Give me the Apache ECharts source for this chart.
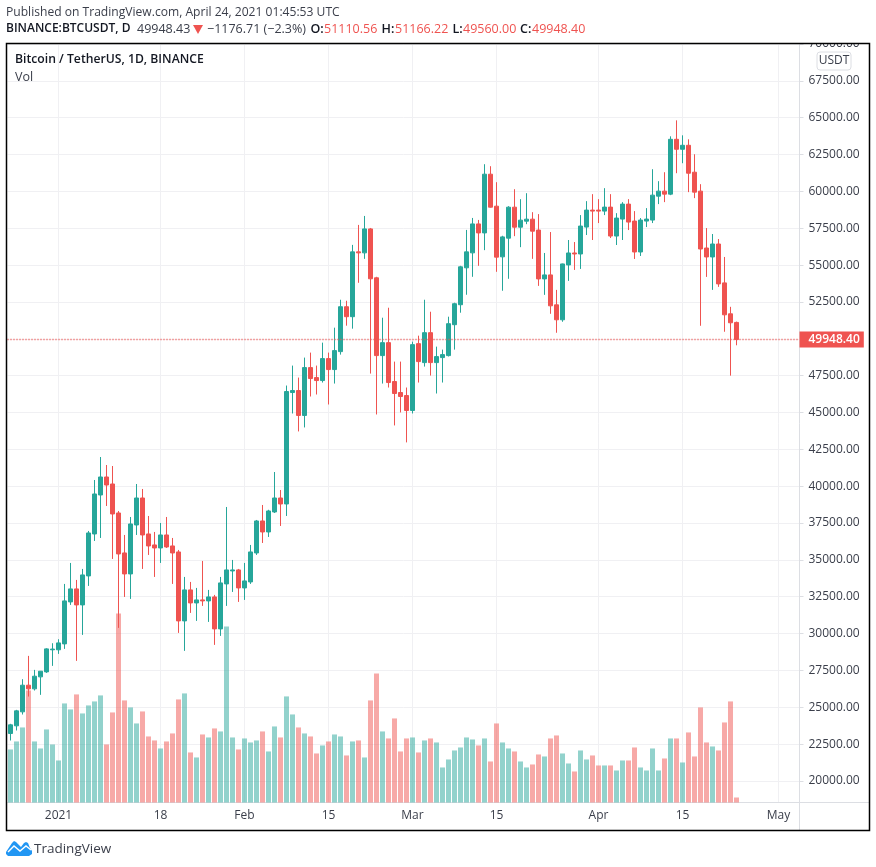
<!DOCTYPE html>
<html>
<head>
<meta charset="utf-8">
<title>BTCUSDT</title>
<script src="https://cdn.jsdelivr.net/npm/echarts@6/dist/echarts.min.js"></script>
<style>
    html, body { margin: 0; padding: 0; background: #fff; }
    #chart { width: 876px; height: 867px; }
</style>
</head>
<body>
<div id="chart"></div>
<script>
(function () {
    const UP = "#26a69a";
    const DOWN = "#ef5350";
    const FONT = '"Open Sans", "Noto Sans", sans-serif';

    // open, high, low, close, volume (thousands) -- daily from 2020-12-24
    const rows = [
        [23222, 23878, 22748, 23810, 53], [23742, 24827, 23426, 24759, 61], [24691, 26906, 24510, 26499, 75],
        [26499, 28488, 25731, 26250, 112], [26250, 27539, 26138, 27109, 61], [27064, 27450, 25844, 27448, 54],
        [27403, 29008, 27335, 28963, 73], [28900, 29347, 27810, 28950, 58], [28900, 29618, 28624, 29369, 42],
        [29302, 33370, 28963, 32217, 99], [32149, 34793, 31946, 33031, 93], [33031, 33641, 28149, 31946, 108],
        [31946, 34387, 29912, 33980, 89], [33912, 36963, 33234, 36827, 97], [36760, 40421, 36285, 39472, 101],
        [39404, 41980, 36488, 40624, 107], [40624, 41438, 38658, 40082, 58], [40150, 41370, 35065, 38116, 90],
        [38183, 38319, 30386, 35404, 189], [35472, 36692, 32488, 34048, 102], [34048, 37912, 32353, 37438, 95],
        [37370, 40150, 36692, 39200, 79], [39200, 39811, 34387, 36692, 91], [36760, 37980, 35336, 35946, 66],
        [36014, 36895, 33844, 35810, 62], [35810, 37505, 34793, 36692, 54], [36692, 37912, 35810, 35878, 61],
        [35946, 36488, 33370, 35471, 69], [35539, 35675, 30047, 30861, 103], [30861, 33844, 28827, 32963, 109],
        [32963, 33505, 31403, 32081, 50], [32081, 33098, 30861, 32285, 45], [32285, 34929, 31878, 32217, 68],
        [32217, 32963, 30793, 32488, 65], [32488, 32624, 29234, 30319, 74], [30319, 33844, 29844, 33437, 71],
        [33370, 38590, 31878, 34319, 176], [34250, 34997, 32827, 34319, 65], [34319, 34387, 32149, 33098, 53],
        [33098, 34793, 32285, 33573, 64], [33505, 36014, 33370, 35539, 60], [35471, 37709, 35336, 37641, 62],
        [37641, 38726, 36149, 36895, 71], [36895, 38400, 36556, 38319, 51], [38251, 40963, 38183, 39200, 76],
        [39200, 39743, 37302, 38794, 65], [38794, 46829, 37980, 46423, 106], [46355, 48183, 44934, 46491, 88],
        [46491, 47370, 43716, 44799, 75], [44799, 48724, 43986, 48047, 69], [48047, 49063, 46085, 47303, 66],
        [47370, 48183, 46220, 47167, 49], [47167, 49739, 47032, 48656, 57], [48656, 49063, 45543, 47912, 61],
        [47912, 50754, 46964, 49198, 68], [49130, 52650, 48927, 52176, 66], [52176, 52582, 50890, 51499, 47],
        [51499, 56372, 50687, 55898, 61], [55898, 57726, 53800, 55830, 62], [55830, 58335, 55424, 57455, 45],
        [57455, 57520, 47641, 54071, 102], [54138, 54206, 44866, 48860, 129], [48860, 51431, 46964, 49739, 71],
        [49739, 52108, 46694, 47032, 64], [47100, 48453, 44122, 46288, 84], [46356, 48453, 45002, 46085, 51],
        [46153, 46694, 42971, 45137, 64], [45137, 49807, 44934, 49604, 65], [49672, 50213, 47032, 48453, 50],
        [48385, 52650, 48115, 50416, 62], [50416, 51837, 47506, 48385, 64], [48385, 49468, 46288, 48792, 60],
        [48724, 49266, 47032, 48927, 35], [48860, 51499, 48800, 51025, 43], [50957, 52447, 49266, 52379, 52],
        [52311, 54951, 51770, 54883, 55], [54815, 57387, 52988, 55898, 65], [55830, 58199, 54206, 57793, 63],
        [57793, 58064, 54951, 57184, 57], [57184, 61845, 56014, 61167, 64], [61167, 61709, 58900, 58929, 41],
        [58997, 60624, 54545, 55539, 79], [55560, 56990, 53259, 56913, 60], [56827, 58997, 54071, 58929, 54],
        [58929, 60150, 56963, 57573, 51], [57573, 59472, 56217, 58050, 41], [57980, 59878, 57777, 58116, 35],
        [58116, 58590, 55424, 57302, 38], [57378, 58460, 53590, 54063, 48], [54063, 55822, 52981, 54334, 46],
        [54334, 57243, 51696, 52237, 64], [52304, 53319, 50410, 51290, 67], [51290, 55100, 51155, 55078, 49],
        [55011, 56702, 53928, 55822, 39], [55822, 56566, 54672, 55755, 31], [55755, 58393, 54740, 57649, 52],
        [57581, 59340, 57040, 58731, 43], [58731, 59813, 56702, 58663, 47], [58731, 59475, 57851, 58663, 37],
        [58663, 60219, 58393, 58934, 37], [58934, 59813, 56837, 56972, 37], [56972, 58524, 56363, 58190, 32],
        [58122, 59272, 56702, 59137, 42], [59137, 59475, 57378, 57919, 42], [57987, 58663, 55416, 55890, 55],
        [55890, 58190, 55619, 58055, 35], [57987, 58866, 57581, 58122, 32], [58055, 61505, 57851, 59746, 54],
        [59678, 60693, 59137, 60017, 32], [60017, 61302, 59272, 59814, 44], [59814, 63737, 59746, 63534, 64],
        [63534, 64820, 61234, 62858, 64], [62858, 63805, 61911, 63128, 40], [63128, 63534, 59949, 61234, 70],
        [61302, 62520, 59543, 59949, 46], [60017, 60490, 50884, 56093, 95], [56160, 57513, 54198, 55552, 60],
        [55552, 57108, 53319, 56431, 56], [56431, 56769, 53522, 53725, 52], [53793, 55552, 50478, 51628, 80],
        [51696, 52169, 47501, 51087, 101], [51110.56, 51166.22, 49560, 49948.4, 5],
    ];

    // Daily categories, running on past the data up to the right edge of the pane
    const dates = [];
    const start = Date.UTC(2020, 11, 24);
    for (let i = 0; i < 132; i++) {
        dates.push(new Date(start + i * 86400000).toISOString().slice(0, 10));
    }

    const dateLabels = {
        "2021-01-01": "2021",
        "2021-01-18": "18",
        "2021-02-01": "Feb",
        "2021-02-15": "15",
        "2021-03-01": "Mar",
        "2021-03-15": "15",
        "2021-04-01": "Apr",
        "2021-04-15": "15",
        "2021-05-01": "May",
    };
    const onLabelledDate = (index, value) => value in dateLabels;

    const priceTicks = [];
    for (let p = 20000; p <= 70000; p += 2500) priceTicks.push(p);

    const headerText = (x, y, text, fill, bold, size) => ({
        type: "text",
        x: x,
        y: y,
        z: 20,
        silent: true,
        style: {
            text: text,
            fill: fill,
            font: (bold ? "600 " : "") + (size || 12.5) + "px " + FONT,
            verticalAlign: "middle",
        },
    });

    const line = (x1, y1, x2, y2, color, width) => ({
        type: "line",
        z: 15,
        silent: true,
        shape: { x1, y1, x2, y2 },
        style: { stroke: color, lineWidth: width },
    });

    const chart = echarts.init(document.getElementById("chart"));
    chart.setOption({
        animation: false,
        backgroundColor: "#fff",
        textStyle: { fontFamily: FONT },
        grid: { left: 7.5, right: 76.5, top: 44, bottom: 64.5, containLabel: false },
        xAxis: {
            type: "category",
            data: dates,
            boundaryGap: true,
            axisLine: { lineStyle: { color: "#dcdee3", width: 1 } },
            axisTick: { alignWithLabel: true, interval: onLabelledDate, length: 4, lineStyle: { color: "#dcdee3" } },
            axisLabel: {
                interval: onLabelledDate,
                formatter: (value) => dateLabels[value] || "",
                color: "#3a3e4a",
                fontSize: 12,
                margin: 7,
            },
            splitLine: { show: true, alignWithLabel: true, interval: onLabelledDate, lineStyle: { color: "#f0f0f3", width: 1 } },
        },
        yAxis: [
            {
                type: "value",
                position: "right",
                min: 18541,
                max: 70000,
                axisLine: { show: true, lineStyle: { color: "#dcdee3", width: 1 } },
                axisTick: { show: true, customValues: priceTicks, length: 4, lineStyle: { color: "#dcdee3" } },
                axisLabel: {
                    customValues: priceTicks,
                    formatter: (value) => value.toFixed(2),
                    color: "#3a3e4a",
                    fontSize: 12,
                    margin: 9,
                    padding: [2, 0, 0, 0],
                },
                splitLine: { show: true, lineStyle: { color: "#f0f0f3", width: 1 } },
            },
            // Volume scale, hidden like in the original
            { type: "value", show: false, min: 0, max: 758, splitLine: { show: false } },
        ],
        series: [
            {
                name: "Vol",
                type: "bar",
                yAxisIndex: 1,
                barWidth: 5,
                z: 1,
                data: rows.map((r) => ({
                    value: r[4],
                    itemStyle: { color: r[3] >= r[0] ? "rgba(38,166,154,0.5)" : "rgba(239,83,80,0.5)" },
                })),
            },
            {
                name: "BTCUSDT",
                type: "candlestick",
                yAxisIndex: 0,
                barWidth: 5,
                z: 2,
                itemStyle: { color: UP, color0: DOWN, borderColor: UP, borderColor0: DOWN, borderWidth: 1 },
                // ECharts order: open, close, low, high
                data: rows.map((r) => [r[0], r[3], r[2], r[1]]),
                markLine: {
                    silent: true,
                    symbol: "none",
                    animation: false,
                    lineStyle: { color: DOWN, type: [1, 2], width: 1.3 },
                    label: {
                        position: "end",
                        distance: 0,
                        formatter: "49948.40",
                        color: "#fff",
                        fontWeight: 600,
                        fontSize: 12,
                        backgroundColor: DOWN,
                        padding: [2, 4, 2, 9],
                    },
                    data: [{ yAxis: 49948.4 }],
                },
            },
        ],
        graphic: [
            // hides the top half of the 70000.00 label, as the frame does in the original
            { type: "rect", z: 14, silent: true, shape: { x: 801, y: 30, width: 67, height: 13 }, style: { fill: "#fff" } },
            { type: "rect", z: 16, silent: true, shape: { x: 6.5, y: 43.5, width: 863, height: 787 }, style: { fill: "none", stroke: "#000", lineWidth: 1.5 } },
            line(799.5, 802, 799.5, 830, "#dcdee3", 1),
            line(799.5, 802.5, 869, 802.5, "#dcdee3", 1),

            headerText(6, 13, "Published on TradingView.com, April 24, 2021 01:45:53 UTC", "#3a3e4a", false, 12.1),
            headerText(6, 29, "BINANCE:BTCUSDT, D", "#131722", true, 12),
            headerText(137, 29, "49948.43", "#3a3e4a"),
            { type: "polygon", z: 20, silent: true, shape: { points: [[193, 25], [203, 25], [198, 34]] }, style: { fill: DOWN } },
            headerText(207, 29, "\u22121176.71 (\u22122.3%)", "#3a3e4a"),
            headerText(310.5, 29, "O:", "#131722", true),
            headerText(324, 29, "51110.56", DOWN),
            headerText(381.5, 29, "H:", "#131722", true),
            headerText(395, 29, "51166.22", DOWN),
            headerText(452.5, 29, "L:", "#131722", true),
            headerText(463, 29, "49560.00", DOWN),
            headerText(520, 29, "C:", "#131722", true),
            headerText(532, 29, "49948.40", DOWN),

            headerText(15, 60, "Bitcoin / TetherUS, 1D, BINANCE", "#131722", true, 12.2),
            headerText(15, 77, "Vol", "#3a3e4a"),

            // currency box on the price axis
            {
                type: "rect",
                z: 17,
                silent: true,
                shape: { x: 817, y: 52, width: 34, height: 18, r: 3 },
                style: { fill: "#fff", stroke: "#dcdee3", lineWidth: 1 },
            },
            {
                type: "text",
                z: 18,
                silent: true,
                x: 834,
                y: 61,
                style: { text: "USDT", fill: "#3a3e4a", font: "12px " + FONT, align: "center", verticalAlign: "middle" },
            },

            // logo
            {
                type: "polygon",
                z: 20,
                silent: true,
                shape: {
                    points: [[6, 852], [12, 843], [14, 841], [16, 842], [21, 847], [24, 843], [26, 842], [28, 843], [30, 848], [32, 851], [32, 854], [29, 856], [8, 856], [6, 854]],
                },
                style: { fill: "#2196f3" },
            },
            {
                type: "polyline",
                z: 21,
                silent: true,
                shape: { points: [[8, 852], [14, 846], [20, 851], [26, 846], [31, 850]] },
                style: { stroke: "#fff", lineWidth: 1.4, fill: "none" },
            },
            {
                type: "text",
                z: 20,
                silent: true,
                x: 34,
                y: 849,
                style: { text: "TradingView", fill: "#3a3e4a", font: "13.5px " + FONT, verticalAlign: "middle" },
            },
        ],
    });

    window.addEventListener("resize", () => chart.resize());
})();
</script>
</body>
</html>
